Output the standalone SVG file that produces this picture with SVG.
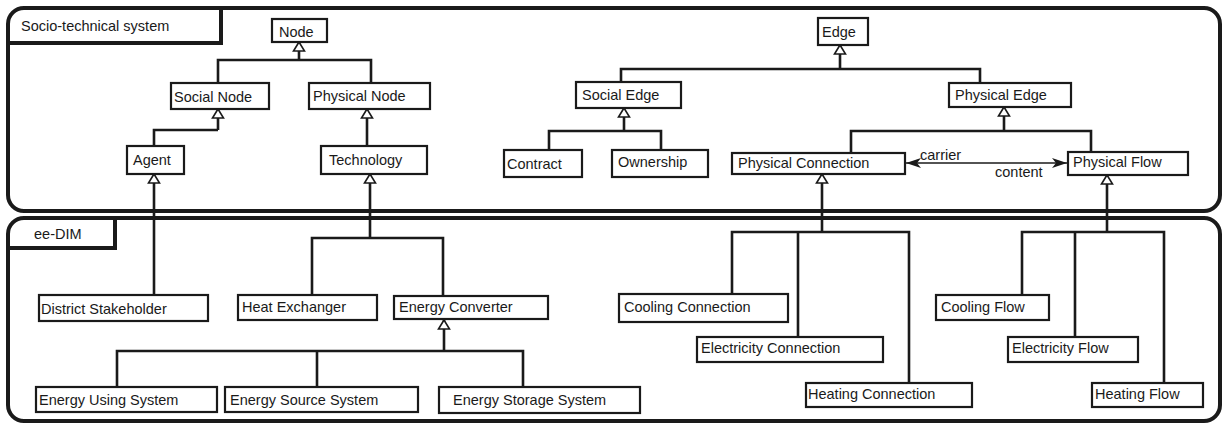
<svg xmlns="http://www.w3.org/2000/svg" width="1223" height="423" viewBox="0 0 1223 423">
  <style>
    .frame { fill: none; stroke: #1a1a1a; stroke-width: 4; }
    .tab { fill: none; stroke: #1a1a1a; stroke-width: 4; stroke-linejoin: miter; }
    .box { fill: #ffffff; stroke: #1a1a1a; stroke-width: 2.2; }
    .line { fill: none; stroke: #1a1a1a; stroke-width: 2.6; }
    .gen { marker-end: url(#hollowTri); }
    .assoc { fill: none; stroke: #1a1a1a; stroke-width: 1.6; marker-start: url(#stealth); marker-end: url(#stealth); }
    text { font-family: "Liberation Sans", Arial, sans-serif; font-size: 14.5px; fill: #1a1a1a; }
  </style>
  <defs>
    <!-- hollow generalization triangle, tip at the path end -->
    <marker id="hollowTri" markerUnits="userSpaceOnUse" viewBox="-11 -7 12 14" refX="0" refY="0" markerWidth="12" markerHeight="14" orient="auto">
      <polygon points="0,0 -9,-5.5 -9,5.5" fill="#ffffff" stroke="#1a1a1a" stroke-width="1.6"/>
    </marker>
    <!-- narrow filled arrowhead for the association -->
    <marker id="stealth" markerUnits="userSpaceOnUse" viewBox="-16 -6 17 12" refX="0" refY="0" markerWidth="17" markerHeight="12" orient="auto-start-reverse">
      <polygon points="0,0 -15,-5 -11,0 -15,5" fill="#1a1a1a"/>
    </marker>
  </defs>

  <!-- package frames -->
  <g id="frame-socio-technical">
    <rect class="frame" x="8" y="8" width="1212" height="203" rx="16"/>
    <path class="tab" d="M8 43 H221 V8"/>
    <text x="21" y="31" font-size="14.7">Socio-technical system</text>
  </g>
  <g id="frame-ee-dim">
    <rect class="frame" x="8" y="218" width="1212" height="203" rx="16"/>
    <path class="tab" d="M8 248 H115 V218"/>
    <text x="34" y="239" font-size="15">ee-DIM</text>
  </g>

  <!-- connectors -->
  <g id="connectors">
    <!-- Node hierarchy -->
    <path class="line gen" d="M299 60 V42"/>
    <path class="line" d="M218 83 V60 H371 V83"/>
    <path class="line gen" d="M218 130 V109"/>
    <path class="line" d="M154 146 V130 H218"/>
    <path class="line gen" d="M367 146 V109"/>
    <path class="line gen" d="M154 295 V174"/>
    <path class="line gen" d="M370 238 V174"/>
    <path class="line" d="M312 295 V238 H443 V295"/>
    <path class="line gen" d="M444 351 V320"/>
    <path class="line" d="M117 387 V351 H523 V387 M317 351 V387"/>

    <!-- Edge hierarchy -->
    <path class="line gen" d="M840 69 V45"/>
    <path class="line" d="M621 82 V69 H980 V83"/>
    <path class="line gen" d="M624 131 V108"/>
    <path class="line" d="M549 150 V131 H661 V150"/>
    <path class="line gen" d="M1004 131 V107"/>
    <path class="line" d="M851 153 V131 H1091 V152"/>
    <path class="line gen" d="M822 232 V174"/>
    <path class="line" d="M732 294 V232 H909 V383 M798 232 V337"/>
    <path class="line gen" d="M1107 232 V175"/>
    <path class="line" d="M1022 295 V232 H1164 V383 M1075 232 V337"/>

    <!-- carrier / content association -->
    <path class="assoc" d="M906 163 H1067"/>
    <text x="920" y="160">carrier</text>
    <text x="995" y="177" font-size="15">content</text>
  </g>

  <!-- socio-technical nodes -->
  <g id="node-node"><rect class="box" x="272" y="19" width="55" height="23"/><text x="279" y="37">Node</text></g>
  <g id="node-social-node"><rect class="box" x="171" y="83" width="98" height="26"/><text x="174" y="102" font-size="15.8">Social Node</text></g>
  <g id="node-physical-node"><rect class="box" x="309" y="83" width="121" height="26"/><text x="313" y="101">Physical Node</text></g>
  <g id="node-agent"><rect class="box" x="127" y="146" width="57" height="28"/><text x="133" y="165">Agent</text></g>
  <g id="node-technology"><rect class="box" x="321" y="146" width="106" height="28"/><text x="329" y="165" font-size="14">Technology</text></g>
  <g id="node-edge"><rect class="box" x="818" y="18" width="50" height="27"/><text x="822" y="37" font-size="13.6">Edge</text></g>
  <g id="node-social-edge"><rect class="box" x="576" y="82" width="105" height="26"/><text x="582" y="100" font-size="13.8">Social Edge</text></g>
  <g id="node-physical-edge"><rect class="box" x="949" y="83" width="122" height="24"/><text x="955" y="100" font-size="14">Physical Edge</text></g>
  <g id="node-contract"><rect class="box" x="504" y="150" width="78" height="27"/><text x="507" y="169">Contract</text></g>
  <g id="node-ownership"><rect class="box" x="612" y="150" width="96" height="27"/><text x="618" y="167" font-size="15">Ownership</text></g>
  <g id="node-physical-connection"><rect class="box" x="732" y="153" width="173" height="21"/><text x="738" y="168">Physical Connection</text></g>
  <g id="node-physical-flow"><rect class="box" x="1068" y="152" width="120" height="23"/><text x="1073" y="167">Physical Flow</text></g>

  <!-- ee-DIM nodes -->
  <g id="node-district-stakeholder"><rect class="box" x="39" y="295" width="169" height="26"/><text x="41" y="314" font-size="15.1">District Stakeholder</text></g>
  <g id="node-heat-exchanger"><rect class="box" x="238" y="295" width="139" height="25"/><text x="242" y="312" font-size="14.2">Heat Exchanger</text></g>
  <g id="node-energy-converter"><rect class="box" x="394" y="296" width="154" height="23"/><text x="399" y="312">Energy Converter</text></g>
  <g id="node-energy-using-system"><rect class="box" x="36" y="387" width="181" height="25"/><text x="39" y="405" font-size="14.1">Energy Using System</text></g>
  <g id="node-energy-source-system"><rect class="box" x="225" y="387" width="193" height="25"/><text x="230" y="405" font-size="14.1">Energy Source System</text></g>
  <g id="node-energy-storage-system"><rect class="box" x="439" y="387" width="201" height="26"/><text x="453" y="405" font-size="13.4">Energy Storage System</text></g>
  <g id="node-cooling-connection"><rect class="box" x="619" y="294" width="169" height="28"/><text x="624" y="312" font-size="14.7">Cooling Connection</text></g>
  <g id="node-electricity-connection"><rect class="box" x="697" y="337" width="186" height="25"/><text x="701" y="353" font-size="14.9">Electricity Connection</text></g>
  <g id="node-heating-connection"><rect class="box" x="806" y="383" width="166" height="24"/><text x="808" y="399" font-size="14.8">Heating Connection</text></g>
  <g id="node-cooling-flow"><rect class="box" x="936" y="295" width="113" height="25"/><text x="941" y="312">Cooling Flow</text></g>
  <g id="node-electricity-flow"><rect class="box" x="1008" y="337" width="130" height="25"/><text x="1012" y="353" font-size="15">Electricity Flow</text></g>
  <g id="node-heating-flow"><rect class="box" x="1092" y="383" width="111" height="24"/><text x="1095" y="399">Heating Flow</text></g>
</svg>
